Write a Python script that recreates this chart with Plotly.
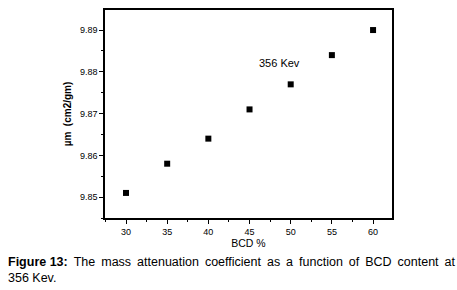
import plotly.graph_objects as go

bcd = [30, 35, 40, 45, 50, 55, 60]
mu = [9.851, 9.858, 9.864, 9.871, 9.877, 9.884, 9.890]
x_ticks = [30, 35, 40, 45, 50, 55, 60]
y_ticks = [9.85, 9.86, 9.87, 9.88, 9.89]

fig = go.Figure()
fig.add_trace(go.Scatter(x=bcd, y=mu, mode="markers",
                         marker=dict(symbol="square", size=6, color="black"),
                         showlegend=False))

sp = " \u2009"
line1 = sp.join("The mass attenuation coefficient as a function of BCD content at".split(" "))

fig.update_layout(
    width=457, height=290,
    margin=dict(l=105, r=65, t=10, b=72, autoexpand=False),
    paper_bgcolor="white", plot_bgcolor="white",
    font=dict(family="Liberation Sans, Arial, sans-serif", color="black", size=9),
    xaxis=dict(range=[27.45, 62.3], tickvals=x_ticks, ticks="outside", ticklen=4,
               tickwidth=1, tickcolor="black", showgrid=False, zeroline=False,
               showline=True, linecolor="black", linewidth=1.5, mirror=True,
               automargin=False,
               minor=dict(dtick=2.5, tick0=27.5, ticks="outside", ticklen=2, tickcolor="black"),
               title=dict(text="BCD %", font=dict(size=10.5), standoff=3)),
    yaxis=dict(range=[9.845, 9.8948], tickvals=y_ticks, tickformat=".2f", ticks="outside",
               ticklen=4, tickwidth=1, tickcolor="black", showgrid=False, zeroline=False,
               showline=True, linecolor="black", linewidth=1.5, mirror=True,
               automargin=False,
               minor=dict(dtick=0.005, tick0=9.845, ticks="outside", ticklen=2, tickcolor="black"),
               title=dict(text="<b>µm  (cm2/gm)</b>", font=dict(size=10), standoff=6)),
)
fig.add_annotation(x=48.6, y=9.8821, xref="x", yref="y", text="356 Kev", showarrow=False,
                   font=dict(size=11), xanchor="center", yanchor="middle")
fig.add_annotation(x=-99/287, y=-0.168, xref="paper", yref="paper", xanchor="left", yanchor="top",
                   align="left", showarrow=False, font=dict(size=12.5),
                   text="<b>Figure 13:</b>" + sp + line1 + "<br>356 Kev.")

fig.write_html("out.html", config={"displayModeBar": False},
               post_script="document.body.style.margin='0';")
